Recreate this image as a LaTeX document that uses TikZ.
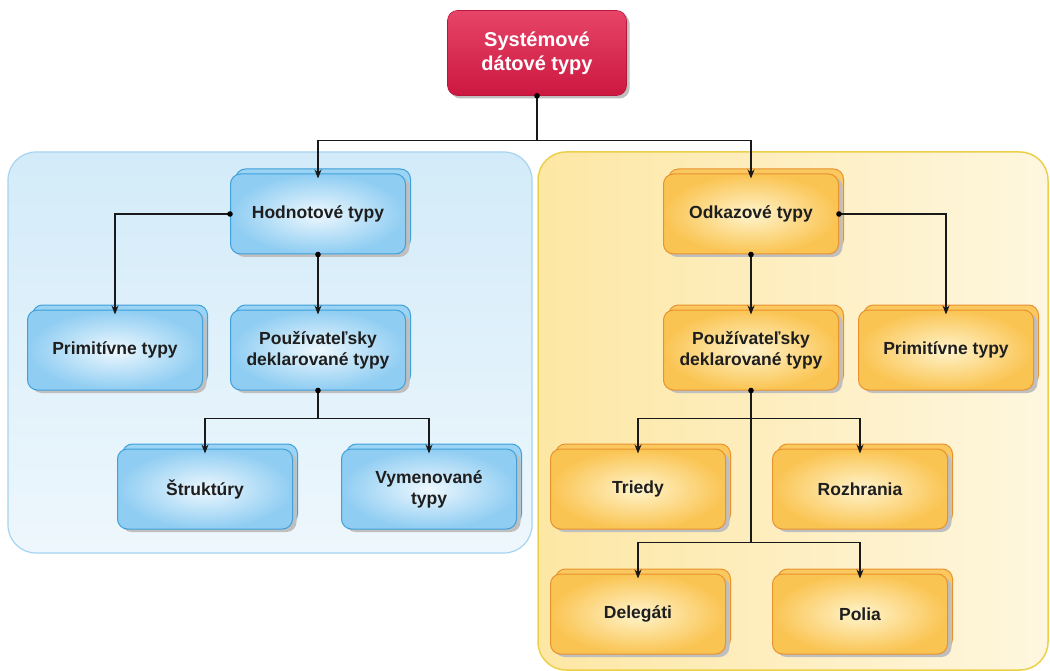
\documentclass[tikz,border=0pt]{standalone}
\usepackage{fontspec}
\setmainfont{Liberation Sans}
\usetikzlibrary{shadows,arrows.meta}
\definecolor{bIn}{HTML}{EEF8FE}
\definecolor{bOut}{HTML}{8FCDF2}
\definecolor{bDraw}{HTML}{3FA0DA}
\definecolor{bBack}{HTML}{9AD3F4}
\definecolor{oIn}{HTML}{FFF4CC}
\definecolor{oOut}{HTML}{FAC452}
\definecolor{oDraw}{HTML}{E8922E}
\definecolor{oBack}{HTML}{FBC860}
\definecolor{rTop}{HTML}{E64468}
\definecolor{rBot}{HTML}{CC1840}
\definecolor{pbFill}{HTML}{D3EBF9}
\definecolor{pbDraw}{HTML}{A6D4F0}
\definecolor{poFill}{HTML}{FDE7A4}
\definecolor{poDraw}{HTML}{EDD04A}
\definecolor{txt}{HTML}{1E1E1E}
\tikzset{
  card/.style={rounded corners=10pt, minimum width=175pt, minimum height=80pt,
    align=center, text=txt, font=\bfseries\fontsize{17.5}{21}\selectfont, line width=1pt},
  bluecard/.style={card, draw=bDraw, shading=radial, inner color=bIn, outer color=bOut,
    general shadow={shadow xshift=5pt, shadow yshift=5pt, fill=bBack, draw=bDraw, line width=1pt},
    general shadow={shadow xshift=4pt, shadow yshift=-3pt, fill=black!25, draw=none}},
  orangecard/.style={card, draw=oDraw, shading=radial, inner color=oIn, outer color=oOut,
    general shadow={shadow xshift=5pt, shadow yshift=5pt, fill=oBack, draw=oDraw, line width=1pt},
    general shadow={shadow xshift=4pt, shadow yshift=-3pt, fill=black!25, draw=none}},
  redcard/.style={rounded corners=10pt, minimum width=179pt, minimum height=85pt,
    align=center, text=white, font=\bfseries\fontsize{20}{24}\selectfont,
    top color=rTop, bottom color=rBot, draw=rBot!90!black, line width=0.6pt,
    general shadow={shadow xshift=3pt, shadow yshift=-3pt, fill=black!25, draw=none}},
  conn/.style={line width=1.2pt, draw=black!90},
  arr/.style={conn, -{Stealth[length=9pt,width=7pt]}, shorten >=-5pt},
  dotc/.style={fill=black}
}
\begin{document}
\begin{tikzpicture}[x=1pt,y=-1pt]
\useasboundingbox (0,0) rectangle (1050,671);
\clip (0,0) rectangle (1050,671);
\fill[white] (0,0) rectangle (1050,671);
% panels
\draw[draw=pbDraw, line width=1.2pt, rounded corners=28pt, top color=pbFill, bottom color=pbFill!40!white]
  (8,152) rectangle (532,553);
\draw[draw=poDraw, line width=1.5pt, rounded corners=28pt, left color=poFill, right color=poFill!35!white]
  (538,152) rectangle (1048,670);
% nodes
\node[redcard] (top) at (537,53) {Systémové\\dátové typy};
\node[bluecard] (hod) at (318,214) {Hodnotové typy};
\node[orangecard] (odk) at (751,214) {Odkazové typy};
\node[bluecard] (bprim) at (115,350) {Primitívne typy};
\node[bluecard] (bpouz) at (318,350) {Používateľsky\\deklarované typy};
\node[orangecard] (opouz) at (751,350) {Používateľsky\\deklarované typy};
\node[orangecard] (oprim) at (946,350) {Primitívne typy};
\node[bluecard] (str) at (205,489) {Štruktúry};
\node[bluecard] (vym) at (429,489) {Vymenované\\typy};
\node[orangecard] (tri) at (638,489) {Triedy};
\node[orangecard] (roz) at (860,489) {Rozhrania};
\node[orangecard] (del) at (638,614) {Delegáti};
\node[orangecard] (pol) at (860,614) {Polia};
% connectors
\draw[conn] (top.south) -- ++(0,45) coordinate (b1);
\draw[arr] (b1) -| (hod.north);
\draw[arr] (b1) -| (odk.north);
\draw[arr] (hod.west) -| (bprim.north);
\draw[arr] (hod.south) -- (bpouz.north);
\draw[conn] (bpouz.south) -- ++(0,28) coordinate (b2);
\draw[arr] (b2) -| (str.north);
\draw[arr] (b2) -| (vym.north);
\draw[arr] (odk.east) -| (oprim.north);
\draw[arr] (odk.south) -- (opouz.north);
\draw[conn] (opouz.south) -- ++(0,152) coordinate (b4);
\path (opouz.south) ++(0,28) coordinate (b3);
\draw[arr] (b3) -| (tri.north);
\draw[arr] (b3) -| (roz.north);
\draw[arr] (b4) -| (del.north);
\draw[arr] (b4) -| (pol.north);
% dots
\foreach \p in {top.south, hod.west, hod.south, bpouz.south, odk.east, odk.south, opouz.south}
  \fill[dotc] (\p) circle (2.8pt);
\end{tikzpicture}
\end{document}
